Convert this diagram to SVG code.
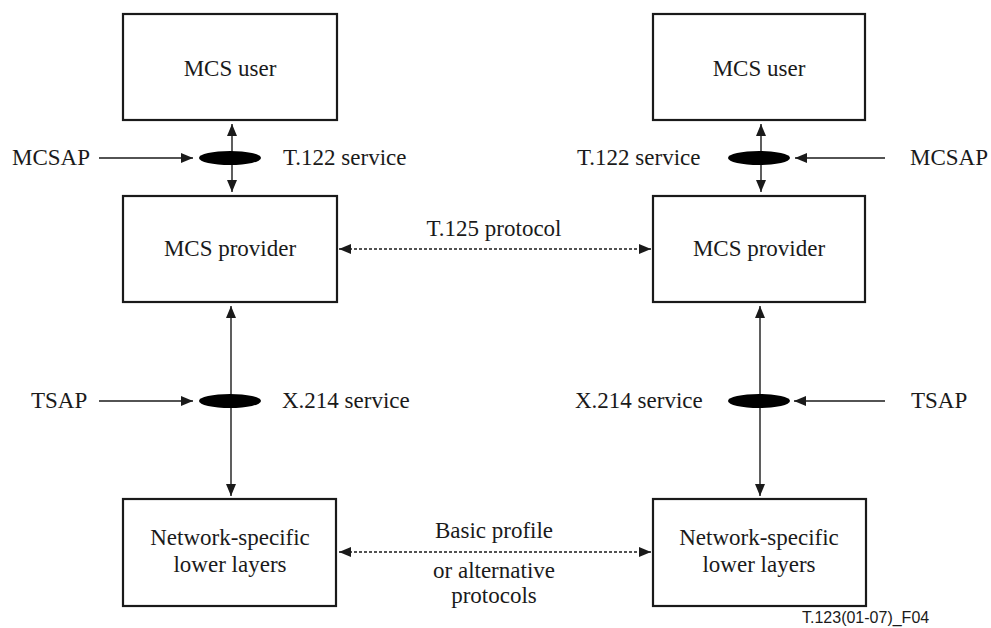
<svg xmlns="http://www.w3.org/2000/svg" width="991" height="628" viewBox="0 0 991 628">
<defs>
<style>
.box{fill:#fff;stroke:#1a1a1a;stroke-width:2.2}
.t{font-family:"Liberation Serif","Times New Roman",serif;font-size:23px;fill:#1a1a1a}
.c{text-anchor:middle}
.ln{stroke:#1a1a1a;stroke-width:1.4;fill:none}
.dl{stroke:#1a1a1a;stroke-width:1.4;fill:none;stroke-dasharray:3 2}
.sap{fill:#000}
.ref{font-family:"Liberation Sans",Arial,sans-serif;font-size:16px;fill:#1a1a1a}
</style>
<marker id="ah" viewBox="0 0 12 10" refX="12" refY="5" markerWidth="12" markerHeight="10" markerUnits="userSpaceOnUse" orient="auto-start-reverse">
<path d="M0,0 L12,5 L0,10 Z" fill="#1a1a1a"/>
</marker>
</defs>
<rect width="991" height="628" fill="#fff"/>

<g id="connectors">
<line class="ln" x1="232" y1="124" x2="232" y2="192" marker-start="url(#ah)" marker-end="url(#ah)"/>
<line class="ln" x1="761" y1="124" x2="761" y2="192" marker-start="url(#ah)" marker-end="url(#ah)"/>
<line class="ln" x1="99" y1="158" x2="193" y2="158" marker-end="url(#ah)"/>
<line class="ln" x1="885" y1="158" x2="795" y2="158" marker-end="url(#ah)"/>
<line class="ln" x1="231" y1="306" x2="231" y2="496" marker-start="url(#ah)" marker-end="url(#ah)"/>
<line class="ln" x1="760" y1="306" x2="760" y2="496" marker-start="url(#ah)" marker-end="url(#ah)"/>
<line class="ln" x1="99" y1="401" x2="193" y2="401" marker-end="url(#ah)"/>
<line class="ln" x1="885" y1="401" x2="794" y2="401" marker-end="url(#ah)"/>
<line class="dl" x1="339" y1="249" x2="651" y2="249" marker-start="url(#ah)" marker-end="url(#ah)"/>
<line class="dl" x1="339" y1="552" x2="651" y2="552" marker-start="url(#ah)" marker-end="url(#ah)"/>
</g>

<g id="mcs-user-left"><rect class="box" x="123" y="14" width="214" height="106"/><text class="t c" x="230" y="76">MCS user</text></g>
<g id="mcs-user-right"><rect class="box" x="653" y="14" width="212" height="106"/><text class="t c" x="759" y="76">MCS user</text></g>
<g id="mcs-provider-left"><rect class="box" x="123" y="196" width="214" height="106"/><text class="t c" x="230" y="256">MCS provider</text></g>
<g id="mcs-provider-right"><rect class="box" x="653" y="196" width="212" height="106"/><text class="t c" x="759" y="256">MCS provider</text></g>
<g id="lower-left"><rect class="box" x="123" y="499" width="213" height="107"/><text class="t c" x="230" y="545">Network-specific</text><text class="t c" x="230" y="572">lower layers</text></g>
<g id="lower-right"><rect class="box" x="653" y="499" width="213" height="107"/><text class="t c" x="759" y="545">Network-specific</text><text class="t c" x="759" y="572">lower layers</text></g>

<g id="mcsap-left"><ellipse class="sap" cx="230" cy="158" rx="31" ry="7"/><text class="t" x="12" y="165">MCSAP</text><text class="t" x="283" y="165">T.122 service</text></g>
<g id="mcsap-right"><ellipse class="sap" cx="759" cy="158" rx="31" ry="7"/><text class="t" x="910" y="165">MCSAP</text><text class="t" x="577" y="165">T.122 service</text></g>
<g id="tsap-left"><ellipse class="sap" cx="230" cy="401" rx="31" ry="7"/><text class="t" x="31" y="408">TSAP</text><text class="t" x="282" y="408">X.214 service</text></g>
<g id="tsap-right"><ellipse class="sap" cx="759" cy="401" rx="31" ry="7"/><text class="t" x="911" y="408">TSAP</text><text class="t" x="575" y="408">X.214 service</text></g>

<g id="labels">
<text class="t c" x="494" y="236">T.125 protocol</text>
<text class="t c" x="494" y="538">Basic profile</text>
<text class="t c" x="494" y="578">or alternative</text>
<text class="t c" x="494" y="603">protocols</text>
<text class="ref" x="802" y="623">T.123(01-07)_F04</text>
</g>
</svg>
